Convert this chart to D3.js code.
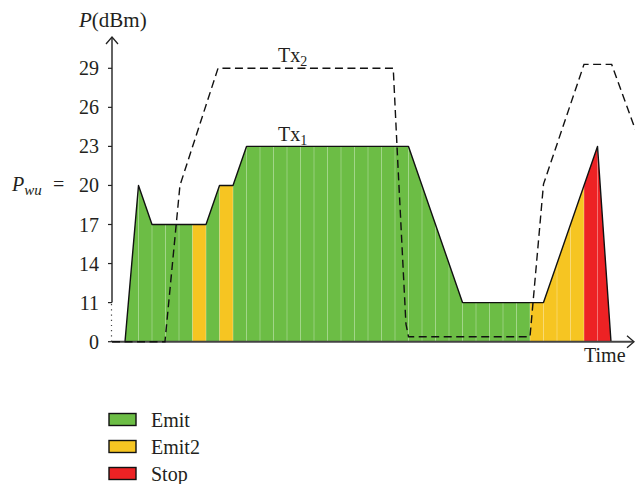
<!DOCTYPE html>
<html>
<head>
<meta charset="utf-8">
<script src="https://cdn.jsdelivr.net/npm/d3@7"></script>
<style>
  html, body { margin: 0; padding: 0; background: #fff; }
  svg { display: block; }
  text { font-family: "Liberation Serif", "DejaVu Serif", serif; fill: #231f20; }
</style>
</head>
<body>
<svg id="chart" width="635" height="484"></svg>
<script>
// ---- data ----
const yTicks = [0, 11, 14, 17, 20, 23, 26, 29];
// Tx1 envelope (slot index, dBm)
const tx1T = [0, 1, 2, 6, 7, 8, 9, 21, 25, 31, 35, 36];
const tx1V = [0, 20, 17, 17, 20, 20, 23, 23, 11, 11, 23, 0];
// Tx2 dashed curve (slot index, dBm)
const tx2T = [-0.96, 2.96, 4.07, 6.89, 19.87, 20.22, 20.81, 21.0, 30.0, 31.0, 34.0, 36.05, 37.8];
const tx2V = [0, 0, 20, 29, 29, 21.5, 5, 1.4, 1.4, 20.1, 29.3, 29.3, 24.3];
// state of each time slot
const slotState = [
  "Emit","Emit","Emit","Emit","Emit","Emit2","Emit","Emit2",
  "Emit","Emit","Emit","Emit","Emit","Emit","Emit","Emit","Emit","Emit","Emit","Emit","Emit",
  "Emit","Emit","Emit","Emit","Emit","Emit","Emit","Emit","Emit",
  "Emit2","Emit2","Emit2","Emit2",
  "Stop","Stop"
];
const legendNames = ["Emit", "Emit2", "Stop"];
const legendColors = ["#6cbd45", "#f6c522", "#ed2224"];

// ---- scales ----
const svg = d3.select("#chart");
const x = d3.scaleLinear().domain([0, 36]).range([125, 611]);
const y = d3.scaleLinear().domain([0, 11, 29]).range([341.7, 302.6, 68.3]);
const color = d3.scaleOrdinal().domain(legendNames).range(legendColors);
const xAxisX = 112;

// ---- Tx1 filled area with slots ----
const tx1 = tx1T.map((t, i) => [x(t), y(tx1V[i])]);
const line = d3.line();
const areaPath = line(tx1) + "Z";

svg.append("defs").append("clipPath").attr("id", "tx1clip")
  .append("path").attr("d", areaPath);

const g = svg.append("g").attr("clip-path", "url(#tx1clip)");
g.selectAll("rect.slot").data(slotState).enter().append("rect")
  .attr("class", "slot")
  .attr("x", (d, i) => x(i))
  .attr("width", (d, i) => x(i + 1) - x(i) + 0.3)
  .attr("y", y(29) - 20)
  .attr("height", y(0) - y(29) + 20)
  .attr("fill", d => color(d));
g.selectAll("line.sep").data(d3.range(1, slotState.length)).enter().append("line")
  .attr("x1", d => x(d)).attr("x2", d => x(d))
  .attr("y1", y(29) - 20).attr("y2", y(0))
  .attr("stroke", "rgba(255,255,255,0.3)").attr("stroke-width", 1);

// outline
svg.append("path").attr("d", line(tx1))
  .attr("fill", "none").attr("stroke", "#111").attr("stroke-width", 1.4)
  .attr("stroke-linejoin", "round");

// ---- x axis ----
svg.append("line")
  .attr("x1", xAxisX).attr("x2", 633).attr("y1", y(0)).attr("y2", y(0))
  .attr("stroke", "#444").attr("stroke-width", 2);
svg.append("path")
  .attr("d", `M627,${y(0) - 6}L634,${y(0)}L627,${y(0) + 6}`)
  .attr("fill", "none").attr("stroke", "#222").attr("stroke-width", 1.3);

// ---- Tx2 dashed ----
const tx2 = tx2T.map((t, i) => [x(t), y(tx2V[i])]);
svg.append("path").attr("d", line(tx2))
  .attr("fill", "none").attr("stroke", "#111").attr("stroke-width", 1.4)
  .attr("stroke-dasharray", "8,4.5");

// ---- y axis ----
svg.append("line")
  .attr("x1", xAxisX).attr("x2", xAxisX).attr("y1", y(11)).attr("y2", 38)
  .attr("stroke", "#222").attr("stroke-width", 1.4);
svg.append("line")
  .attr("x1", xAxisX - 0.5).attr("x2", xAxisX - 0.5).attr("y1", y(0)).attr("y2", y(11))
  .attr("stroke", "#444").attr("stroke-width", 1.2).attr("stroke-dasharray", "1.2,4");
svg.append("path")
  .attr("d", `M${xAxisX - 6},44L${xAxisX},37L${xAxisX + 6},44`)
  .attr("fill", "none").attr("stroke", "#222").attr("stroke-width", 1.3);

const ticks = svg.append("g");
ticks.selectAll("line").data(yTicks).enter().append("line")
  .attr("x1", xAxisX - 4).attr("x2", xAxisX).attr("y1", d => y(d)).attr("y2", d => y(d))
  .attr("stroke", "#222").attr("stroke-width", 1.2);
ticks.selectAll("text").data(yTicks).enter().append("text")
  .attr("x", 99).attr("y", d => y(d) + 7)
  .attr("text-anchor", "end").attr("font-size", 20)
  .text(d => d);

// axis titles
const pt = svg.append("text").attr("x", 79).attr("y", 27).attr("font-size", 21);
pt.append("tspan").attr("font-style", "italic").text("P");
pt.append("tspan").text("(dBm)");

const pw = svg.append("text").attr("x", 12).attr("y", 191).attr("font-size", 20);
pw.append("tspan").attr("font-style", "italic").text("P");
pw.append("tspan").attr("font-style", "italic").attr("font-size", 15).attr("dy", 4).text("wu");
pw.append("tspan").attr("dy", -4).attr("x", 53).text("=");

svg.append("text").attr("x", 584).attr("y", 362).attr("font-size", 20).text("Time");

// curve labels
const t2 = svg.append("text").attr("x", 278).attr("y", 62).attr("font-size", 20);
t2.append("tspan").text("Tx");
t2.append("tspan").attr("font-size", 14).attr("dy", 4).text("2");
const t1 = svg.append("text").attr("x", 278).attr("y", 141).attr("font-size", 20);
t1.append("tspan").text("Tx");
t1.append("tspan").attr("font-size", 14).attr("dy", 4).text("1");

// ---- legend ----
const lg = svg.append("g");
const items = lg.selectAll("g").data(legendNames).enter().append("g")
  .attr("transform", (d, i) => `translate(109,${413.5 + i * 27})`);
items.append("rect").attr("width", 27).attr("height", 12)
  .attr("fill", d => color(d)).attr("stroke", "#111").attr("stroke-width", 1.4);
items.append("text").attr("x", 42).attr("y", 13).attr("font-size", 20).text(d => d);
</script>
</body>
</html>
